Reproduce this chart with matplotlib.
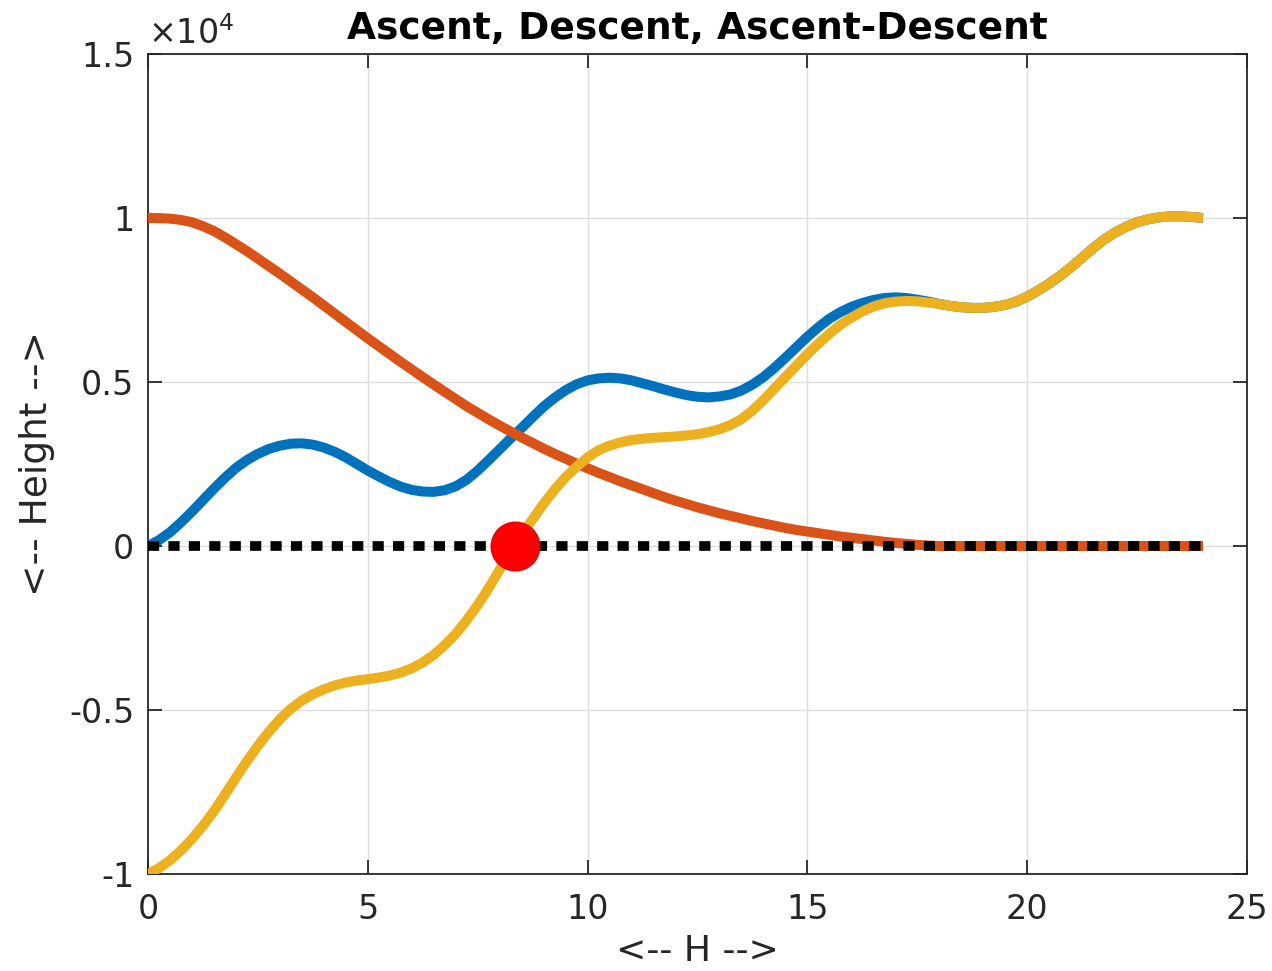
import matplotlib
matplotlib.use("Agg")
import matplotlib.pyplot as plt

# Sample positions along H (step 0.25)
h = [i * 0.25 for i in range(97)]

ascent = [
    0, 180, 420, 720, 1050, 1400, 1750, 2080, 2380, 2620, 2810, 2960,
    3060, 3120, 3130, 3090, 3000, 2870, 2700, 2500, 2300, 2120, 1950, 1810,
    1710, 1660, 1650, 1700, 1820, 2020, 2300, 2620, 2950, 3280, 3600, 3930,
    4250, 4520, 4750, 4930, 5050, 5110, 5130, 5110, 5050, 4960, 4870, 4770,
    4680, 4600, 4550, 4530, 4560, 4620, 4740, 4920, 5150, 5430, 5740, 6060,
    6380, 6670, 6930, 7130, 7290, 7410, 7500, 7560, 7580, 7560, 7510, 7450,
    7380, 7320, 7280, 7260, 7260, 7290, 7350, 7450, 7600, 7790, 8000, 8240,
    8500, 8790, 9080, 9340, 9560, 9730, 9870, 9960, 10020, 10050, 10050,
    10030, 10000]

descent = [
    10000, 9997, 9980, 9940, 9870, 9750, 9600, 9410, 9200, 8990, 8760, 8530,
    8300, 8060, 7820, 7580, 7330, 7080, 6830, 6580, 6330, 6090, 5850, 5610,
    5380, 5150, 4920, 4700, 4480, 4260, 4060, 3860, 3670, 3490, 3310, 3140,
    2970, 2810, 2660, 2510, 2370, 2230, 2100, 1970, 1850, 1730, 1610, 1490,
    1380, 1280, 1180, 1090, 1000, 920, 840, 760, 690, 620, 550, 490,
    440, 390, 340, 290, 250, 210, 170, 130, 95, 65, 35, 15,
    0, 0, 0, 0, 0, 0, 0, 0, 0, 0, 0, 0,
    0, 0, 0, 0, 0, 0, 0, 0, 0, 0, 0, 0, 0]

ascent_descent = [
    -10000, -9820, -9580, -9280, -8930, -8530, -8080, -7580, -7060, -6560,
    -6090, -5660, -5280, -4960, -4710, -4520, -4370, -4250, -4160, -4100,
    -4060, -4010, -3950, -3860, -3730, -3550, -3320, -3020, -2680, -2260,
    -1800, -1280, -720, -180, 330, 820, 1290, 1720, 2100, 2420,
    2700, 2920, 3060, 3160, 3230, 3270, 3300, 3320, 3340, 3370,
    3410, 3470, 3560, 3690, 3870, 4130, 4450, 4800, 5150, 5500,
    5850, 6170, 6470, 6740, 6960, 7150, 7300, 7400, 7450, 7470,
    7460, 7420, 7380, 7320, 7280, 7260, 7260, 7290, 7350, 7450,
    7600, 7790, 8000, 8240, 8500, 8790, 9080, 9340, 9560, 9730,
    9870, 9960, 10020, 10050, 10050, 10030, 10000]

baseline_h = [0, 24]
baseline_v = [0, 0]

crossing_h = [8.35]
crossing_v = [0]

x_ticks = [0, 5, 10, 15, 20, 25]
x_labels = ['0', '5', '10', '15', '20', '25']
y_ticks = [-10000, -5000, 0, 5000, 10000, 15000]
y_labels = ['-1', '-0.5', '0', '0.5', '1', '1.5']

plt.rcParams['font.family'] = ['DejaVu Sans']
ink = '#262626'

fig = plt.figure(figsize=(12.72, 9.71), dpi=100)
ax = fig.add_axes([0.1164, 0.0999, 0.8639, 0.8445])

lw = 7.2
style = dict(lw=lw, solid_capstyle='butt', solid_joinstyle='round', zorder=3)
ax.plot(h, ascent, color='#0072BD', **style)
ax.plot(h, descent, color='#D95319', **style)
ax.plot(h, ascent_descent, color='#EDB120', **style)
ax.plot(baseline_h, baseline_v, color='black', lw=7.0,
        linestyle=(0, (1.15, 0.95)), dash_capstyle='butt', zorder=4)
ax.plot(crossing_h, crossing_v, 'o', color='#FF0000', markersize=35,
        markeredgecolor='#E80000', markeredgewidth=1, zorder=5)

ax.set_xlim(0, 25)
ax.set_ylim(-10000, 15000)
ax.set_xticks(x_ticks, x_labels)
ax.set_yticks(y_ticks, y_labels)

ax.text(0.0, 1.004, r'$\times10^{4}$', transform=ax.transAxes,
        fontsize=24, color=ink, ha='left', va='bottom')

ax.grid(True, color='#DDDDDD', linewidth=1.0, zorder=0)
ax.set_axisbelow(True)
for s in ax.spines.values():
    s.set_color(ink)
    s.set_linewidth(1.3)
ax.tick_params(direction='in', length=10, width=1.3, colors=ink,
               labelsize=24, top=True, right=True, pad=10)
ax.tick_params(axis='x', pad=13.5)

ax.set_title('Ascent, Descent, Ascent-Descent', fontsize=27,
             fontweight='bold', pad=11)
ax.set_xlabel('<-- H -->', fontsize=26, color=ink, labelpad=6)
ax.set_ylabel('<-- Height -->', fontsize=27, color=ink, labelpad=10)

fig.savefig('out.png', dpi=100, facecolor='white')
